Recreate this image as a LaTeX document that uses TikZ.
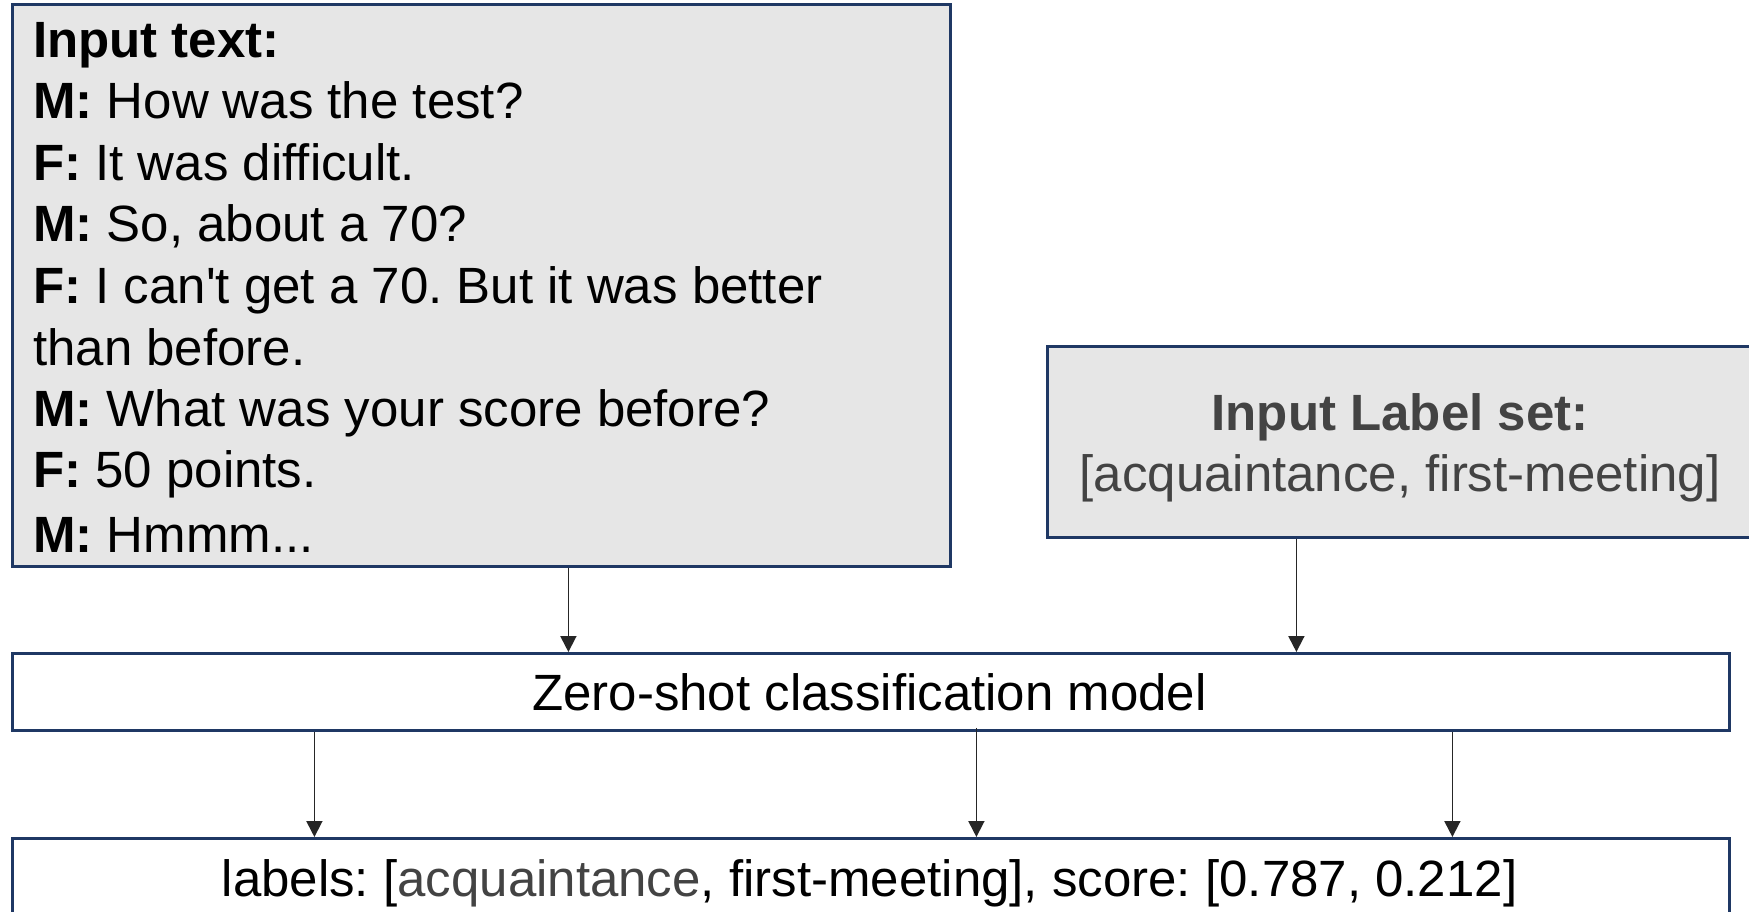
\documentclass[tikz,border=0pt]{standalone}
\usepackage{fontspec}
\setmainfont{Liberation Sans}[Ligatures=TeXOff]
\usetikzlibrary{arrows.meta}
\definecolor{boxedge}{HTML}{1F3864}
\definecolor{boxfill}{HTML}{E6E6E6}
\definecolor{softtext}{HTML}{434343}
\frenchspacing
\begin{document}
\begin{tikzpicture}[x=1pt,y=-1pt,
  box/.style={draw=boxedge, line width=2.8pt, rectangle, inner sep=0pt, anchor=north west},
  greybox/.style={box, fill=boxfill},
  whitebox/.style={box, fill=white},
  txtline/.style={anchor=base west, inner sep=0pt, font=\fontsize{51}{61}\selectfont},
  ctext/.style={anchor=base, inner sep=0pt, font=\fontsize{51}{61}\selectfont},
  arr/.style={draw=black!85, line width=1.8pt, -{Triangle[width=16pt,length=16pt]}}]
\useasboundingbox (0,0) rectangle (1749,912);
\clip (0,0) rectangle (1749,912);
\fill[white] (0,0) rectangle (1749,912);

% boxes
\node[greybox, minimum width=938pt, minimum height=562pt] (intext) at (11,3) {};
\node[greybox, minimum width=708pt, minimum height=191pt] (labelset) at (1046,345) {};
\node[whitebox, minimum width=1717pt, minimum height=77pt] (model) at (11,652) {};
\node[whitebox, minimum width=1717pt, minimum height=100pt] (output) at (11,837) {};

% dialogue lines
\node[txtline] (t0) at (33,58)  {\textbf{Input text:}};
\node[txtline] (t1) at (33,119) {\textbf{M:} How was the test?};
\node[txtline] (t2) at (33,181) {\textbf{F:} It was difficult.};
\node[txtline] (t3) at (33,242) {\textbf{M:} So, about a 70?};
\node[txtline] (t4) at (33,303) {\textbf{F:} I can't get a 70. But it was better};
\node[txtline] (t5) at (33,365) {than before.};
\node[txtline] (t6) at (33,426) {\textbf{M:} What was your score before?};
\node[txtline] (t7) at (33,487) {\textbf{F:} 50 points.};
\node[txtline] (t8) at (33,552) {\textbf{M:} Hmmm...};

% label set
\node[ctext, text=softtext] (ls1) at (1400,430) {\textbf{Input Label set:}};
\node[ctext, text=softtext] (ls2) at (1400,491) {[acquaintance, first-meeting]};

% model and result
\node[ctext] (mt) at (869.5,710) {Zero-shot classification model};
\node[ctext] (ot) at (869.5,896) {labels: [\textcolor{softtext}{acquaintance}, first-meeting], score: [0.787, 0.212]};

% connectors
\draw[arr] ([xshift=87pt]intext.south) coordinate (a1) -- (a1 |- model.north);
\draw[arr] ([xshift=-105pt]labelset.south) coordinate (a2) -- (a2 |- model.north);
\draw[arr] ([xshift=-556.5pt]model.south) coordinate (b1) -- (b1 |- output.north);
\draw[arr] ([xshift=105.5pt,yshift=4pt]model.south) coordinate (b2) -- (b2 |- output.north);
\draw[arr] ([xshift=581.5pt]model.south) coordinate (b3) -- (b3 |- output.north);
\end{tikzpicture}
\end{document}
